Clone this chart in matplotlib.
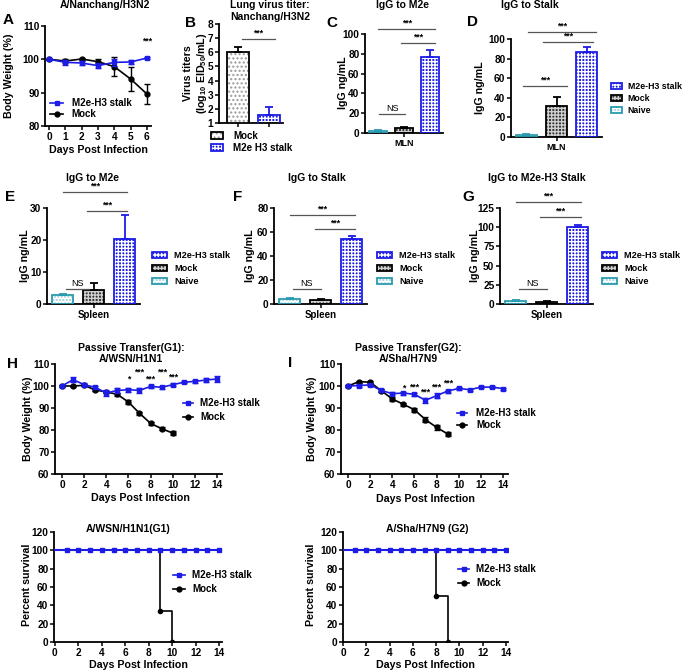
import matplotlib
matplotlib.use('Agg')
import matplotlib.pyplot as plt
from matplotlib.patches import Patch
from matplotlib.lines import Line2D
from matplotlib.legend_handler import HandlerTuple

plt.rcParams['font.family'] = ['Liberation Sans', 'DejaVu Sans']
plt.rcParams['font.weight'] = 'bold'
plt.rcParams['axes.labelweight'] = 'bold'
plt.rcParams['mathtext.default'] = 'regular'
plt.rcParams['hatch.linewidth'] = 1.0

# ---------------- data ----------------
A_days = [0, 1, 2, 3, 4, 5, 6]
A_m2e = [100, 99.1, 98.9, 98.1, 99.1, 99.2, 100.4]
A_m2e_err = [0.3, 0.8, 0.7, 0.8, 1.0, 0.6, 0.4]
A_mock = [100, 99.5, 100.1, 99.3, 97.8, 94.1, 89.6]
A_mock_err = [0.2, 0.5, 0.3, 0.8, 2.8, 3.5, 3.1]

B_groups = ['Mock', 'M2e H3 stalk']
B_vals = [6.05, 1.55]
B_errs = [0.35, 0.55]

groups = ['Naive', 'Mock', 'M2e-H3 stalk']
C_vals = [2.5, 5.5, 76.5]
C_errs = [0.4, 0.6, 7.5]
D_vals = [2.5, 32, 87]
D_errs = [0.4, 9, 4.5]
E_vals = [2.8, 4.5, 20.3]
E_errs = [0.3, 2.1, 7.6]
F_vals = [4.2, 3.5, 54]
F_errs = [0.4, 0.5, 3]
G_vals = [4.3, 3.2, 100]
G_errs = [0.4, 0.4, 2.5]

H_days_m = list(range(15))
H_m2e = [100, 102.9, 100.6, 99.4, 96.8, 98.0, 98.3, 98.0, 99.8, 99.4, 100.6, 101.7, 102.1, 102.7, 103.2]
H_m2e_err = [0.5, 1.2, 0.6, 0.6, 1.3, 1.0, 1.0, 1.2, 0.6, 0.6, 0.6, 0.5, 0.6, 1.0, 1.3]
H_days_k = list(range(11))
H_mock = [100, 100, 100.3, 98.2, 97.3, 96.2, 92.7, 87.6, 83.0, 80.6, 78.6]
H_mock_err = [0.3, 0.5, 0.4, 0.5, 0.6, 0.6, 0.8, 0.6, 0.5, 0.8, 0.8]
H_sig_days = [6, 7, 8, 9, 10]
H_sig_lab = ['*', '***', '***', '***', '***']
H_sig_y = [103.2, 106.4, 103.2, 106.4, 104.1]

I_days_m = list(range(15))
I_m2e = [100, 100.2, 100.5, 98.0, 96.5, 96.8, 96.2, 93.5, 95.6, 97.7, 98.9, 98.3, 99.5, 99.5, 98.8]
I_m2e_err = [0.5, 0.5, 0.5, 0.5, 0.6, 0.7, 0.6, 1.2, 1.2, 0.7, 0.5, 0.4, 0.4, 0.4, 0.5]
I_days_k = list(range(10))
I_mock = [100, 102, 101.7, 97.9, 94.1, 91.7, 89.2, 84.7, 81.2, 78.2]
I_mock_err = [0.4, 0.5, 0.5, 0.6, 0.7, 0.6, 0.9, 1.1, 1.1, 1.0]
I_sig_days = [5, 6, 7, 8, 9]
I_sig_lab = ['*', '***', '***', '***', '***']
I_sig_y = [99.0, 99.4, 97.4, 99.4, 101.5]

SH_days_m = list(range(15))
SH_m2e = [100] * 15
SH_t_mock = [0, 9, 10]
SH_s_mock = [100, 33.3, 0]
SI_days_m = list(range(15))
SI_m2e = [100] * 15
SI_t_mock = [0, 8, 9]
SI_s_mock = [100, 50, 0]

# ---------------- helpers ----------------
W, H = 685, 671
fig = plt.figure(figsize=(W / 100, H / 100), dpi=100)

BLUE = '#1c1ce6'
TEAL = '#2a9bb0'
TICK_FS = 7.3
LAB_FS = 7.7

def add_ax(l, t, r, b):
    ax = fig.add_axes([l / W, 1 - b / H, (r - l) / W, (b - t) / H])
    for s in ['top', 'right']:
        ax.spines[s].set_visible(False)
    for s in ['left', 'bottom']:
        ax.spines[s].set_linewidth(1.3)
    ax.tick_params(direction='out', length=3, width=1.1, labelsize=TICK_FS, pad=1)
    ax.patch.set_alpha(0)
    return ax

def ftext(x, y, s, size=LAB_FS, ha='center', va='center', rot=0, **kw):
    fig.text(x / W, 1 - y / H, s, fontsize=size, ha=ha, va=va, rotation=rot,
             fontweight='bold', **kw)

def legend_px(ax, handles, labels, x, ytop, hl, pad=0.8, sp=0.25, fs=7):
    ax.legend(handles, labels, loc='upper left', bbox_to_anchor=(x / W, 1 - ytop / H),
              bbox_transform=fig.transFigure, frameon=False, fontsize=fs,
              handlelength=hl, handletextpad=pad, labelspacing=sp, borderpad=0,
              borderaxespad=0, handler_map={tuple: HandlerTuple(ndivide=1)})

M2E_ST = dict(face=BLUE, hatchc='white', hatch='+++++', edge=BLUE)
MOCK_ST = dict(face='#333333', hatchc='#cfcfcf', hatch='+++++', edge='black')
NAIVE_ST = dict(face='white', hatchc='#9ccfd8', hatch='.....', edge=TEAL)
BMOCK_ST = dict(face='white', hatchc='#999999', hatch='....', edge='black')

def bar_handle(st):
    return (Patch(facecolor=st['face'], edgecolor=st['hatchc'], hatch=st['hatch'], linewidth=0),
            Patch(facecolor='none', edgecolor=st['edge'], linewidth=1.3))

def draw_bars(ax, vals, errs, styles, width=0.68):
    for xi, (v, e, st) in enumerate(zip(vals, errs, styles)):
        ax.bar(xi, v, width=width, color=st['face'], edgecolor=st['hatchc'], linewidth=0,
               hatch=st['hatch'], zorder=2)
        ax.bar(xi, v, width=width, facecolor='none', edgecolor=st['edge'], linewidth=1.3, zorder=3)
        ax.errorbar(xi, v, yerr=[[0], [e]], fmt='none', ecolor=st['edge'], elinewidth=1.3,
                    capsize=3, capthick=1.3, zorder=3)

def sig(ax, x0, x1, y, lab, dy, color='#555555'):
    ax.plot([x0, x1], [y, y], color=color, lw=0.9, clip_on=False, zorder=4)
    if lab == 'NS':
        ax.text((x0 + x1) / 2, y + dy, lab, ha='center', va='bottom', fontsize=6.5,
                fontweight='normal', clip_on=False)
    else:
        ax.text((x0 + x1) / 2, y + dy, lab, ha='center', va='bottom', fontsize=6.3,
                fontweight='bold', clip_on=False)

def weight_lines(ax, dm, m, me, dk, k, ke):
    ax.errorbar(dk, k, yerr=ke, color='black', marker='o', ms=3.5, lw=1.2, elinewidth=1,
                capsize=2, capthick=1, zorder=3)
    ax.errorbar(dm, m, yerr=me, color=BLUE, marker='s', ms=3.5, lw=1.2, elinewidth=1,
                capsize=2, capthick=1, zorder=4)

line_handles = [Line2D([], [], color=BLUE, marker='s', ms=3.5, lw=1.2),
                Line2D([], [], color='black', marker='o', ms=3.5, lw=1.2)]
line_labels = ['M2e-H3 stalk', 'Mock']

# ---------------- Panel A ----------------
ax = add_ax(45, 26, 151, 126)
weight_lines(ax, A_days, A_m2e, A_m2e_err, A_days, A_mock, A_mock_err)
ax.set_xlim(-0.25, 6.25)
ax.set_ylim(80, 110)
ax.set_xticks(A_days)
ax.set_yticks([80, 90, 100, 110])
ax.text(6, 104, '***', ha='center', va='bottom', fontsize=6.3)
legend_px(ax, line_handles, line_labels, 50, 98, 1.35, pad=0.9, sp=0.15)
ftext(105, 5, 'A/Nanchang/H3N2', size=7.5)
ftext(8, 20, 'A', size=11)
ftext(9, 76, 'Body Weight (%)', rot=90)
ftext(98, 150, 'Days Post Infection')

# ---------------- Panel B ----------------
ax = add_ax(219, 24, 283, 123)
draw_bars(ax, B_vals, B_errs, [BMOCK_ST, M2E_ST])
ax.set_xlim(-0.61, 1.45)
ax.set_ylim(1, 8)
ax.set_yticks(range(1, 9))
ax.set_xticks([0, 1])
ax.set_xticklabels(['', ''])
sig(ax, 0.13, 1.19, 6.94, '***', 0.1)
legend_px(ax, [bar_handle(BMOCK_ST), bar_handle(M2E_ST)], B_groups, 211, 131, 1.25, pad=1.0, sp=0.2)
ftext(270, 5, 'Lung virus titer:', size=7.5)
ftext(270, 17, 'Nanchang/H3N2', size=7.5)
ftext(190, 23, 'B', size=11)
ftext(188, 73, 'Virus titers', rot=90)
ftext(202, 73, '(log$_{10}$ EID$_{50}$/mL)', rot=90)

# ---------------- Panels C-G ----------------
bar_styles = [NAIVE_ST, MOCK_ST, M2E_ST]
leg_handles = [bar_handle(M2E_ST), bar_handle(MOCK_ST), bar_handle(NAIVE_ST)]
leg_labels = ['M2e-H3 stalk', 'Mock', 'Naive']

def bar_panel(l, t, r, b, vals, errs, ymax, ystep, xlabel, xfs, sigs, dys):
    ax = add_ax(l, t, r, b)
    draw_bars(ax, vals, errs, bar_styles, width=0.7)
    ax.set_xlim(-0.5, 2.5)
    ax.set_ylim(0, ymax)
    ax.set_yticks(range(0, ymax + 1, ystep))
    ax.set_xticks([1])
    ax.set_xticklabels([xlabel], fontsize=xfs)
    for (x0, x1, y, lab) in sigs:
        sig(ax, x0, x1, y, lab, dys)
    return ax

# C
ax = bar_panel(365, 34, 443, 133, C_vals, C_errs, 100, 20, 'MLN', 6.5,
               [(0, 2.2, 105, '***'), (0.9, 2.2, 91, '***'), (0.05, 1.05, 19, 'NS')], 1.5)
ftext(403, 5, 'IgG to M2e', size=7.5)
ftext(332, 23, 'C', size=11)
ftext(343, 83, 'IgG ng/mL', rot=90)

# D
ax = bar_panel(511, 39, 602, 137, D_vals, D_errs, 100, 20, 'MLN', 6.5,
               [(0.05, 2.3, 107.4, '***'), (0.55, 2.2, 97.2, '***'), (-0.1, 1.35, 52.4, '***')], 1.5)
legend_px(ax, leg_handles, leg_labels, 611, 82, 1.3, pad=0.6, sp=0.35, fs=6.3)
ftext(530, 5, 'IgG to Stalk', size=7.5)
ftext(472, 22, 'D', size=11)
ftext(480, 88, 'IgG ng/mL', rot=90)

# E
ax = bar_panel(47, 208, 140, 304, E_vals, E_errs, 30, 10, 'Spleen', 7,
               [(0, 2.08, 35, '***'), (0.8, 2.08, 29, '***'), (0.1, 0.85, 4.7, 'NS')], 0.45)
legend_px(ax, leg_handles, leg_labels, 152, 251, 1.65, pad=0.75, sp=0.45, fs=6.6)
ftext(93, 178, 'IgG to M2e', size=7.5)
ftext(10, 197, 'E', size=11)
ftext(25, 256, 'IgG ng/mL', rot=90)

# F
ax = bar_panel(274, 208, 367, 304, F_vals, F_errs, 80, 20, 'Spleen', 7,
               [(0, 2.1, 74, '***'), (0.83, 2.1, 62.5, '***'), (0.1, 1.0, 12.5, 'NS')], 1.2)
legend_px(ax, leg_handles, leg_labels, 377, 251, 1.65, pad=0.75, sp=0.45, fs=6.6)
ftext(317, 178, 'IgG to Stalk', size=7.5)
ftext(238, 197, 'F', size=11)
ftext(250, 256, 'IgG ng/mL', rot=90)

# G
ax = bar_panel(500, 208, 593, 304, G_vals, G_errs, 125, 25, 'Spleen', 7,
               [(0, 2.1, 133, '***'), (0.8, 2.1, 113, '***'), (0.1, 1.0, 19.5, 'NS')], 1.9)
legend_px(ax, leg_handles, leg_labels, 602, 251, 1.65, pad=0.75, sp=0.45, fs=6.6)
ftext(537, 178, 'IgG to M2e-H3 Stalk', size=7.5)
ftext(468, 197, 'G', size=11)
ftext(475, 256, 'IgG ng/mL', rot=90)

# ---------------- Panel H / I weights ----------------
def weight_panel(l, dm, m, me, dk, k, ke, sd, sl, sy):
    ax = add_ax(l, 364, l + 167, 474)
    weight_lines(ax, dm, m, me, dk, k, ke)
    ax.set_xlim(-0.63, 14.45)
    ax.set_ylim(60, 110)
    ax.set_xticks(range(0, 15, 2))
    ax.set_yticks(range(60, 111, 10))
    for d, lab, y in zip(sd, sl, sy):
        ax.text(d, y, lab, ha='center', va='center', fontsize=6.3)
    return ax

ax = weight_panel(55, H_days_m, H_m2e, H_m2e_err, H_days_k, H_mock, H_mock_err,
                  H_sig_days, H_sig_lab, H_sig_y)
legend_px(ax, line_handles, line_labels, 183, 398, 1.05, pad=0.7, sp=0.45)
ftext(131, 348, 'Passive Transfer(G1):', size=7.5)
ftext(131, 359, 'A/WSN/H1N1', size=7.5)
ftext(13, 364, 'H', size=11)
ftext(28, 419, 'Body Weight (%)', rot=90)
ftext(140, 498, 'Days Post Infection')

ax = weight_panel(341, I_days_m, I_m2e, I_m2e_err, I_days_k, I_mock, I_mock_err,
                  I_sig_days, I_sig_lab, I_sig_y)
legend_px(ax, line_handles, line_labels, 457, 408, 1.05, pad=0.9, sp=0.25)
ftext(408, 348, 'Passive Transfer(G2):', size=7.5)
ftext(408, 359, 'A/Sha/H7N9', size=7.5)
ftext(290, 363, 'I', size=11)
ftext(312, 419, 'Body Weight (%)', rot=90)
ftext(425, 499, 'Days Post Infection')

# ---------------- Survival ----------------
def surv_panel(l, r, xmin, xmax, dm, m, tk, sk):
    ax = add_ax(l, 532, r, 642)
    ax.step(tk, sk, where='post', color='black', lw=1.2, zorder=2)
    ax.plot(tk[1:], sk[1:], 'o', color='black', ms=3, zorder=3)
    ax.plot(dm, m, color=BLUE, lw=1.5, zorder=4)
    ax.plot(dm[1:], m[1:], 's', color=BLUE, ms=3.5, zorder=5)
    ax.set_xlim(xmin, xmax)
    ax.set_ylim(0, 120)
    ax.set_xticks(range(0, 15, 2))
    ax.set_yticks(range(0, 121, 20))
    return ax

ax = surv_panel(54, 222, -0.08, 14.26, SH_days_m, SH_m2e, SH_t_mock, SH_s_mock)
legend_px(ax, line_handles, line_labels, 173, 570, 1.25, pad=0.7, sp=0.45)
ftext(128, 529, 'A/WSN/H1N1(G1)', size=7.5)
ftext(27, 585, 'Percent survival', rot=90)
ftext(138, 665, 'Days Post Infection')

ax = surv_panel(343, 508, 0, 14.17, SI_days_m, SI_m2e, SI_t_mock, SI_s_mock)
legend_px(ax, line_handles, line_labels, 458, 564, 1.15, pad=0.75, sp=0.45)
ftext(427, 529, 'A/Sha/H7N9 (G2)', size=7.5)
ftext(311, 585, 'Percent survival', rot=90)
ftext(425, 665, 'Days Post Infection')

fig.savefig('out.png', dpi=100)
